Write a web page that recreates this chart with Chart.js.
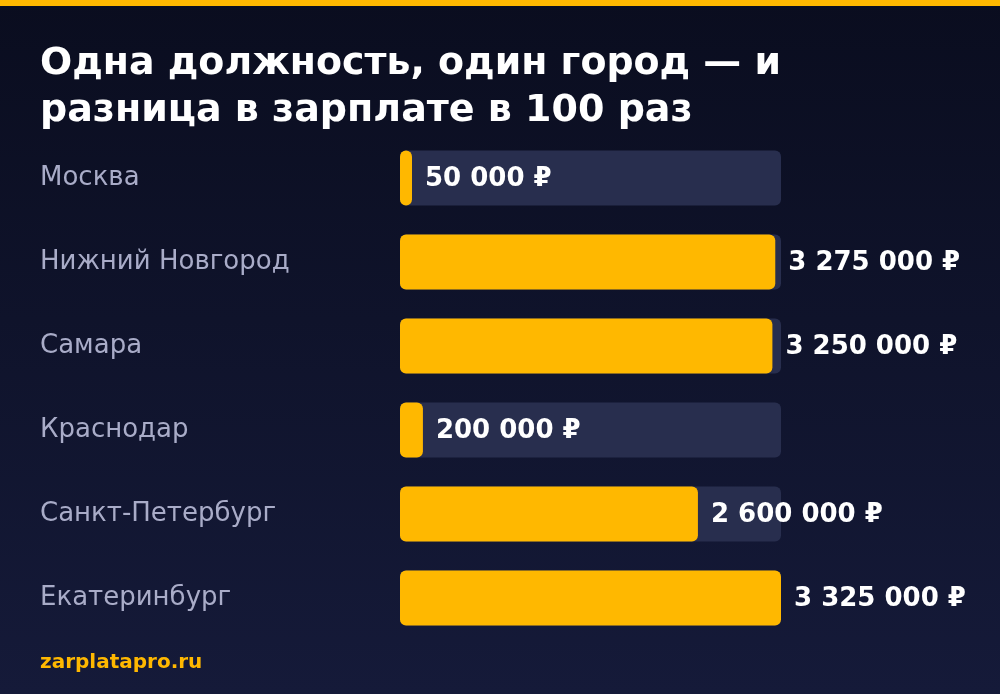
<!DOCTYPE html>
<html>
<head>
    <title>Зарплаты по городам</title>
    <style>
        body { margin: 0; background: #0b0e20; }
        canvas { display: block; }
    </style>
</head>
<body>
<canvas id="salaryChart" width="1000" height="694"></canvas>

<script src="https://cdn.jsdelivr.net/npm/chart.js"></script>
<script>
    const cities = ['Москва', 'Нижний Новгород', 'Самара', 'Краснодар', 'Санкт-Петербург', 'Екатеринбург'];
    const salaries = [50000, 3275000, 3250000, 200000, 2600000, 3325000];
    const titleLines = ['Одна должность, один город — и', 'разница в зарплате в 100 раз'];
    const source = 'zarplatapro.ru';

    const maxSalary = Math.max(...salaries);
    const track = cities.map(() => maxSalary);

    const yellow = '#ffb800';
    const font = "'DejaVu Sans', sans-serif";

    function fmt(v) {
        return String(v).replace(/\B(?=(\d{3})+(?!\d))/g, ' ') + ' ₽';
    }

    // background + top stripe
    const backdrop = {
        id: 'backdrop',
        beforeDraw(chart) {
            const ctx = chart.ctx;
            const g = ctx.createLinearGradient(0, 0, 0, chart.height);
            g.addColorStop(0, '#0a0d1f');
            g.addColorStop(1, '#151a39');
            ctx.save();
            ctx.fillStyle = g;
            ctx.fillRect(0, 0, chart.width, chart.height);
            ctx.fillStyle = yellow;
            ctx.fillRect(0, 0, chart.width, 6);
            ctx.restore();
        }
    };

    // value labels right of each yellow bar
    const valueLabels = {
        id: 'valueLabels',
        afterDatasetsDraw(chart) {
            const ctx = chart.ctx;
            const meta = chart.getDatasetMeta(0);
            ctx.save();
            ctx.font = 'bold 26px ' + font;
            ctx.fillStyle = '#ffffff';
            ctx.textAlign = 'left';
            ctx.textBaseline = 'middle';
            meta.data.forEach((bar, i) => {
                ctx.fillText(fmt(salaries[i]), bar.x + 13, bar.y + 1);
            });
            ctx.restore();
        }
    };

    new Chart(document.getElementById('salaryChart'), {
        type: 'bar',
        data: {
            labels: cities,
            datasets: [
                {
                    data: salaries,
                    backgroundColor: yellow,
                    borderRadius: 6,
                    borderSkipped: false,
                    grouped: false,
                    minBarLength: 12,
                    barPercentage: 1,
                    categoryPercentage: 55 / 84
                },
                {
                    data: track,
                    backgroundColor: '#282e4e',
                    borderRadius: 6,
                    borderSkipped: false,
                    grouped: false,
                    barPercentage: 1,
                    categoryPercentage: 55 / 84
                }
            ]
        },
        options: {
            indexAxis: 'y',
            responsive: false,
            animation: false,
            layout: { padding: { left: 40, right: 219, top: 0, bottom: 0 } },
            plugins: {
                legend: { display: false },
                tooltip: { enabled: false },
                title: {
                    display: true,
                    text: titleLines,
                    align: 'start',
                    color: '#ffffff',
                    font: { family: font, size: 38, weight: 'bold', lineHeight: 1.25 },
                    padding: { top: 40, bottom: 1 }
                },
                subtitle: {
                    display: true,
                    position: 'bottom',
                    text: source,
                    align: 'start',
                    color: yellow,
                    font: { family: font, size: 20, weight: 'bold', lineHeight: 1.2 },
                    padding: { top: 11, bottom: 19 }
                }
            },
            scales: {
                x: {
                    display: false,
                    min: 0,
                    max: maxSalary
                },
                y: {
                    grid: { display: false },
                    border: { display: false },
                    ticks: {
                        crossAlign: 'far',
                        color: '#a9acc8',
                        font: { family: font, size: 26 }
                    },
                    afterFit(scale) { scale.width = 360; }
                }
            }
        },
        plugins: [backdrop, valueLabels]
    });
</script>
</body>
</html>
